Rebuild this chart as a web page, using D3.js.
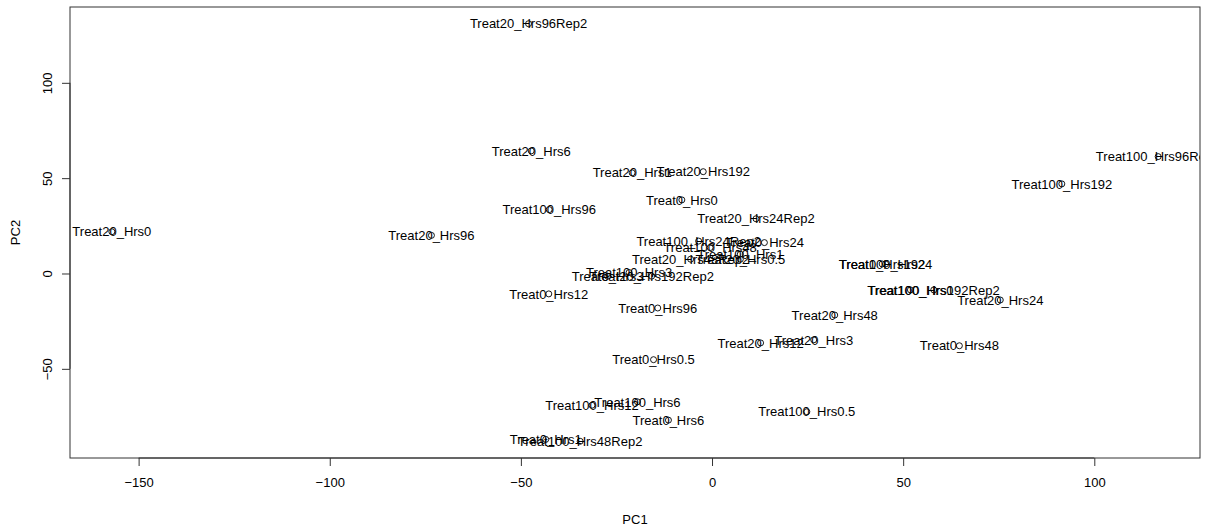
<!DOCTYPE html>
<html>
<head>
<meta charset="utf-8">
<script src="https://cdn.jsdelivr.net/npm/d3@7"></script>
<style>
  html, body { margin: 0; padding: 0; background: #fff; }
  svg { display: block; font-family: "Liberation Sans", Arial, Helvetica, sans-serif; }
</style>
</head>
<body>
<svg id="chart" width="1208" height="531"></svg>
<script>
// Sample names and their scores on the first two principal components
const samples = [
  "Treat20_Hrs96Rep2", "Treat20_Hrs6", "Treat20_Hrs1", "Treat20_Hrs192", "Treat0_Hrs0",
  "Treat100_Hrs96", "Treat20_Hrs0", "Treat20_Hrs96", "Treat20_Hrs24Rep2", "Treat100_Hrs24Rep2",
  "Treat0_Hrs24", "Treat100_Hrs48", "Treat100_Hrs1", "Treat20_Hrs48Rep2", "Treat20_Hrs0.5",
  "Treat100_Hrs3", "Treat0_Hrs3", "Treat20_Hrs192Rep2", "Treat0_Hrs12", "Treat0_Hrs96",
  "Treat0_Hrs0.5", "Treat20_Hrs12", "Treat20_Hrs3", "Treat100_Hrs0.5", "Treat100_Hrs24",
  "Treat0_Hrs192", "Treat100_Hrs0", "Treat100_Hrs192Rep2", "Treat20_Hrs24", "Treat20_Hrs48",
  "Treat0_Hrs48", "Treat100_Hrs96Rep2", "Treat100_Hrs192", "Treat0_Hrs6", "Treat100_Hrs6",
  "Treat100_Hrs12", "Treat0_Hrs1", "Treat100_Hrs48Rep2"
];
const pc1 = [
  -48.0, -47.3, -20.9, -2.3, -7.9,
  -42.6, -157.0, -73.4, 11.5, -3.5,
  13.7, -0.5, 7.4, -5.6, 7.4,
  -21.7, -27.3, -15.8, -42.7, -14.2,
  -15.3, 12.7, 26.6, 24.8, 45.4,
  44.5, 51.9, 58.0, 75.4, 32.1,
  64.7, 116.7, 91.5, -11.4, -19.5,
  -31.4, -43.5, -34.5
];
const pc2 = [
  131.0, 64.3, 52.8, 53.4, 38.6,
  33.5, 21.9, 20.0, 28.7, 17.0,
  16.2, 13.6, 10.1, 7.5, 7.5,
  0.5, -1.4, -1.4, -10.7, -18.1,
  -45.2, -36.4, -34.8, -72.5, 5.0,
  5.0, -8.6, -8.6, -13.9, -21.8,
  -37.9, 61.3, 47.0, -76.9, -67.3,
  -69.1, -87.0, -88.0
];
const xTicks = [-150, -100, -50, 0, 50, 100];
const yTicks = [-50, 0, 50, 100];
const xTitle = "PC1";
const yTitle = "PC2";

const svg = d3.select("#chart");
const plot = { left: 70, right: 1200, top: 7, bottom: 458 };

// R-style 4% padding around the data range
function padded(vals) {
  const [lo, hi] = d3.extent(vals);
  const p = (hi - lo) * 0.04;
  return [lo - p, hi + p];
}
const x = d3.scaleLinear().domain(padded(pc1)).range([plot.left, plot.right]);
const y = d3.scaleLinear().domain(padded(pc2)).range([plot.bottom, plot.top]);

const axisColor = "#333";
const fontSize = 13;

// clip region for the plotting area
svg.append("clipPath").attr("id", "plotclip")
  .append("rect")
  .attr("x", plot.left).attr("y", plot.top)
  .attr("width", plot.right - plot.left).attr("height", plot.bottom - plot.top);

// x axis
const xAxis = svg.append("g")
  .attr("transform", `translate(0,${plot.bottom})`)
  .call(d3.axisBottom(x).tickValues(xTicks).tickSize(8).tickPadding(12).tickFormat(d3.format("d")));
xAxis.select(".domain").attr("d", `M${x(xTicks[0])},0H${x(xTicks[xTicks.length - 1])}`);

// y axis with rotated labels
const yAxis = svg.append("g")
  .attr("transform", `translate(${plot.left},0)`)
  .call(d3.axisLeft(y).tickValues(yTicks).tickSize(8).tickFormat(d3.format("d")));
yAxis.select(".domain").attr("d", `M0,${y(yTicks[0])}V${y(yTicks[yTicks.length - 1])}`);
yAxis.selectAll(".tick text")
  .attr("x", null).attr("dy", null)
  .attr("text-anchor", "middle")
  .attr("transform", "translate(-18,0) rotate(-90)");

[xAxis, yAxis].forEach(g => {
  g.selectAll(".domain, .tick line").attr("stroke", axisColor).attr("stroke-width", 1);
  g.selectAll(".tick text").attr("fill", "#000").attr("font-size", fontSize)
    .attr("font-family", "Liberation Sans, Arial, sans-serif");
});
xAxis.selectAll(".tick text").attr("dy", "0.71em");

// plot frame
svg.append("rect")
  .attr("x", plot.left).attr("y", plot.top)
  .attr("width", plot.right - plot.left).attr("height", plot.bottom - plot.top)
  .attr("fill", "none").attr("stroke", axisColor).attr("stroke-width", 1);

// axis titles
svg.append("text")
  .attr("x", (plot.left + plot.right) / 2).attr("y", 524)
  .attr("text-anchor", "middle").attr("font-size", fontSize).text(xTitle);
svg.append("text")
  .attr("transform", `translate(20,${(plot.top + plot.bottom) / 2}) rotate(-90)`)
  .attr("text-anchor", "middle").attr("font-size", fontSize).text(yTitle);

const data = samples.map((s, i) => ({ name: s, x: pc1[i], y: pc2[i] }));

const marks = svg.append("g").attr("clip-path", "url(#plotclip)");

// open circles
marks.selectAll("circle").data(data).enter().append("circle")
  .attr("cx", d => x(d.x)).attr("cy", d => y(d.y))
  .attr("r", 3).attr("fill", "none").attr("stroke", "#000").attr("stroke-width", 0.9);

// sample labels centred on each point
marks.selectAll("text.lbl").data(data).enter().append("text")
  .attr("class", "lbl")
  .attr("x", d => x(d.x)).attr("y", d => y(d.y))
  .attr("dy", "0.36em")
  .attr("text-anchor", "middle")
  .attr("font-size", fontSize)
  .attr("fill", "#000")
  .text(d => d.name);
</script>
</body>
</html>
